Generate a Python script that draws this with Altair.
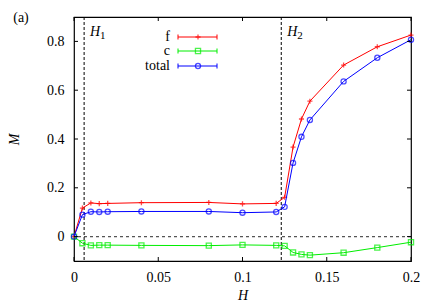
import altair as alt
import pandas as pd

# ---- data ----
H = [0, 0.005, 0.01, 0.015, 0.02, 0.04, 0.08, 0.1, 0.12, 0.125, 0.13, 0.135, 0.14, 0.16, 0.18, 0.2]
M_f = [0, 0.117, 0.138, 0.135, 0.136, 0.139, 0.140, 0.134, 0.136, 0.161, 0.367, 0.482, 0.555, 0.703, 0.778, 0.826]
M_c = [0, -0.027, -0.036, -0.035, -0.035, -0.036, -0.037, -0.034, -0.036, -0.038, -0.065, -0.073, -0.076, -0.066, -0.045, -0.023]
M_total = [0, 0.090, 0.102, 0.101, 0.102, 0.103, 0.103, 0.098, 0.101, 0.122, 0.302, 0.409, 0.478, 0.636, 0.733, 0.807]

series_names = ["f", "c", "total"]
series_colors = ["#ff0000", "#00ee00", "#0000ff"]
series_shapes = ["M-1,0L1,0M0,-1L0,1", "square", "circle"]

H_lines = [0.006, 0.123]
H_line_labels = ["H", "H"]
H_line_subs = ["1", "2"]

x_ticks = [0, 0.05, 0.1, 0.15, 0.2]
y_ticks = [0, 0.2, 0.4, 0.6, 0.8]

W, HT = 337, 244
FONT = "'Liberation Serif', 'Times New Roman', 'DejaVu Serif', serif"

xs = alt.Scale(domain=[0, 0.2], nice=False, zero=False, padding=0)
ys = alt.Scale(domain=[-0.1, 0.9], nice=False, zero=False, padding=0)

x_axis = alt.Axis(values=x_ticks, format="~g", ticks=False, grid=False, domain=False, labelPadding=9,
                  labelFlush=False, labelOverlap=False,
                  labelFont=FONT, labelFontSize=14, labelColor="black",
                  titleFont=FONT, titleFontSize=14, titleFontStyle="italic",
                  titleFontWeight="normal", titlePadding=4, titleColor="black")
y_axis = alt.Axis(values=y_ticks, format="~g", ticks=False, grid=False, domain=False, labelPadding=10,
                  labelFlush=False, labelOverlap=False,
                  labelFont=FONT, labelFontSize=14, labelColor="black",
                  titleFont=FONT, titleFontSize=14, titleFontStyle="italic",
                  titleFontWeight="normal", titlePadding=25, titleColor="black")


def X(f):
    return alt.X(f, scale=xs, axis=x_axis, title="H")


def Y(f):
    return alt.Y(f, scale=ys, axis=y_axis, title="M")


values = {"f": M_f, "c": M_c, "total": M_total}

layers = []

# reference lines
zero_df = pd.DataFrame({"y": [0.0]})
layers.append(alt.Chart(zero_df).mark_rule(color="#555555", strokeDash=[3, 3], strokeWidth=1.2).encode(
    y=Y("y:Q")))
hl_df = pd.DataFrame({"x": H_lines, "lab": H_line_labels, "sub": H_line_subs})
layers.append(alt.Chart(hl_df).mark_rule(color="black", strokeDash=[3, 2], strokeWidth=1).encode(
    x=X("x:Q")))
layers.append(alt.Chart(hl_df).mark_text(font=FONT, fontStyle="italic", fontSize=14, align="left",
                                         baseline="alphabetic", dx=6).encode(
    x=X("x:Q"), y=alt.value(19), text="lab:N"))
layers.append(alt.Chart(hl_df).mark_text(font=FONT, fontSize=11, align="left",
                                         baseline="alphabetic", dx=16).encode(
    x=X("x:Q"), y=alt.value(22), text="sub:N"))

# data series
for name, col, shp in zip(series_names, series_colors, series_shapes):
    df = pd.DataFrame({"H": H, "M": values[name]})
    base = alt.Chart(df).encode(x=X("H:Q"), y=Y("M:Q"))
    layers.append(base.mark_line(color=col, strokeWidth=1))
    layers.append(base.mark_point(shape=shp, color=col, size=26, strokeWidth=1.3, filled=False))

# legend (manual, gnuplot style), pixel positions inside the plot area
leg_y = [20, 34, 49]
for name, col, shp, py in zip(series_names, series_colors, series_shapes, leg_y):
    d = pd.DataFrame({"name": [name]})
    layers.append(alt.Chart(d).mark_rule(color=col, strokeWidth=1).encode(
        x=alt.value(104), x2=alt.value(143), y=alt.value(py)))
    for xe in (104, 143):
        layers.append(alt.Chart(d).mark_rule(color=col, strokeWidth=1).encode(
            x=alt.value(xe), y=alt.value(py - 2.5), y2=alt.value(py + 2.5)))
    layers.append(alt.Chart(d).mark_point(shape=shp, color=col, size=26, strokeWidth=1.3,
                                          filled=False).encode(x=alt.value(124), y=alt.value(py)))
    layers.append(alt.Chart(d).mark_text(font=FONT, fontSize=14, align="right", baseline="middle",
                                         color="black").encode(
        x=alt.value(96), y=alt.value(py), text="name:N"))

# inward ticks on all four sides
xt = pd.DataFrame({"v": x_ticks})
yt = pd.DataFrame({"v": y_ticks})
layers.append(alt.Chart(xt).mark_rule(color="black").encode(
    x=X("v:Q"), y=alt.value(HT), y2=alt.value(HT - 4)))
layers.append(alt.Chart(xt).mark_rule(color="black").encode(
    x=X("v:Q"), y=alt.value(0), y2=alt.value(4)))
layers.append(alt.Chart(yt).mark_rule(color="black").encode(
    y=Y("v:Q"), x=alt.value(0), x2=alt.value(4)))
layers.append(alt.Chart(yt).mark_rule(color="black").encode(
    y=Y("v:Q"), x=alt.value(W), x2=alt.value(W - 4)))

# panel label
lab_df = pd.DataFrame({"t": ["(a)"]})
layers.append(alt.Chart(lab_df).mark_text(font=FONT, fontSize=14, align="center", baseline="middle").encode(
    x=alt.value(-53), y=alt.value(1), text="t:N"))

chart = alt.layer(*layers).properties(
    width=W, height=HT,
    autosize=alt.AutoSizeParams(type="none"),
    padding={"left": 66, "top": 9, "right": 10, "bottom": 46},
).configure_view(stroke="black", strokeWidth=1.2)

chart.save("out.html", embed_options={"renderer": "svg", "actions": False})
